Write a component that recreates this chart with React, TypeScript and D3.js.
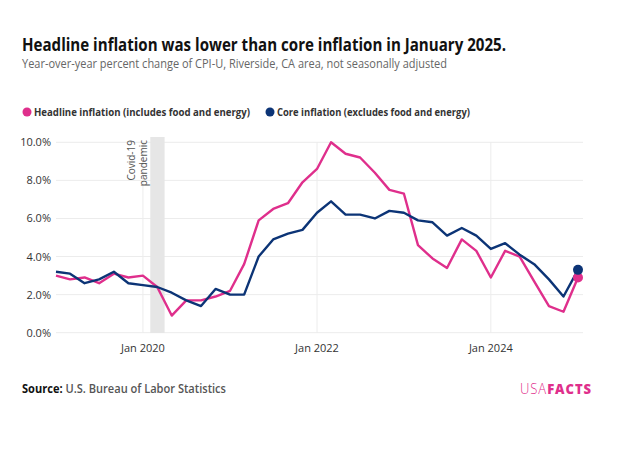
import React from "react";
import * as d3 from "d3";

const startYear = 2019;
const headline = [3.0, 2.8, 2.9, 2.6, 3.1, 2.9, 3.0, 2.4, 0.9, 1.7, 1.7, 1.9, 2.2, 3.6, 5.9, 6.5, 6.8, 7.9, 8.6, 10.0, 9.4, 9.2, 8.4, 7.5, 7.3, 4.6, 3.9, 3.4, 4.9, 4.3, 2.9, 4.3, 4.0, 2.7, 1.4, 1.1, 2.9];
const core = [3.2, 3.1, 2.6, 2.8, 3.2, 2.6, 2.5, 2.4, 2.1, 1.7, 1.4, 2.3, 2.0, 2.0, 4.0, 4.9, 5.2, 5.4, 6.3, 6.9, 6.2, 6.2, 6.0, 6.4, 6.3, 5.9, 5.8, 5.1, 5.5, 5.1, 4.4, 4.7, 4.1, 3.6, 2.8, 1.9, 3.3];
const yTicks = [0, 2, 4, 6, 8, 10];
const xTickYears = [2020, 2022, 2024];

const PINK = "#df2f8c";
const NAVY = "#0c3476";
const FONT = "'Open Sans', 'Noto Sans', sans-serif";

export default function App() {
  const W = 640, H = 455;
  const dates = headline.map((_, i) => new Date(startYear, i * 2, 1));
  const x = d3.scaleTime().domain([new Date(2019, 0, 1), new Date(2025, 0, 1)]).range([56, 578]);
  const y = d3.scaleLinear().domain([0, 10]).range([332.7, 142.3]);
  const line = d3.line<number>().x((_, i) => x(dates[i])).y((d) => y(d));
  const gridRight = 583;
  const covidX0 = x(new Date(2020, 1, 1));
  const covidX1 = x(new Date(2020, 3, 1));
  const last = headline.length - 1;

  return (
    <svg width={W} height={H} style={{ display: "block", position: "absolute", left: 0, top: 0 }} fontFamily={FONT}>
      <rect width={W} height={H} fill="#fff" />
      <text x={22} y={51} fontSize={17.2} fontWeight={700} fill="#111" textLength={484} lengthAdjust="spacingAndGlyphs">
        Headline inflation was lower than core inflation in January 2025.
      </text>
      <text x={22} y={68} fontSize={12.5} fill="#666" textLength={425} lengthAdjust="spacingAndGlyphs">
        Year-over-year percent change of CPI-U, Riverside, CA area, not seasonally adjusted
      </text>

      {/* legend */}
      <circle cx={27} cy={112} r={4.5} fill={PINK} />
      <text x={34} y={116} fontSize={10.5} fontWeight={700} fill="#333" textLength={216} lengthAdjust="spacingAndGlyphs">
        Headline inflation (includes food and energy)
      </text>
      <circle cx={270} cy={112} r={4.5} fill={NAVY} />
      <text x={277} y={116} fontSize={10.5} fontWeight={700} fill="#333" textLength={193} lengthAdjust="spacingAndGlyphs">
        Core inflation (excludes food and energy)
      </text>

      {/* grid */}
      {yTicks.map((t) => (
        <g key={t}>
          <line x1={56} x2={gridRight} y1={y(t)} y2={y(t)} stroke="#ececec" strokeWidth={1} />
          <text x={51} y={y(t) + 4} fontSize={11} fill="#333" textAnchor="end">
            {t.toFixed(1)}%
          </text>
        </g>
      ))}
      {xTickYears.map((yr) => (
        <g key={yr}>
          <line x1={x(new Date(yr, 0, 1))} x2={x(new Date(yr, 0, 1))} y1={142} y2={333} stroke="#ececec" strokeWidth={1} />
          <text x={x(new Date(yr, 0, 1))} y={352} fontSize={11} fill="#333" textAnchor="middle">
            Jan {yr}
          </text>
        </g>
      ))}

      {/* covid band */}
      <rect x={covidX0} y={137} width={covidX1 - covidX0} height={196} fill="#e6e6e6" />
      <text transform={`translate(${135},${140}) rotate(-90)`} fontSize={10} fill="#555" textAnchor="end">
        Covid-19
      </text>
      <text transform={`translate(${146.5},${140}) rotate(-90)`} fontSize={10} fill="#555" textAnchor="end">
        pandemic
      </text>

      {/* lines */}
      <path d={line(headline) || ""} fill="none" stroke={PINK} strokeWidth={2.4} strokeLinejoin="round" />
      <path d={line(core) || ""} fill="none" stroke={NAVY} strokeWidth={2.4} strokeLinejoin="round" />
      <circle cx={x(dates[last])} cy={y(headline[last])} r={5} fill={PINK} />
      <circle cx={x(dates[last])} cy={y(core[last])} r={5} fill={NAVY} />

      {/* footer */}
      <text x={22} y={393} fontSize={12} fontWeight={600} fill="#555" textLength={204} lengthAdjust="spacingAndGlyphs">
        <tspan fontWeight={700} fill="#111">Source:</tspan> U.S. Bureau of Labor Statistics
      </text>
      <text x={520} y={394} fontSize={14} fill={PINK} textLength={72} lengthAdjust="spacingAndGlyphs" letterSpacing={1}>
        <tspan fontWeight={300}>USA</tspan><tspan fontWeight={800}>FACTS</tspan>
      </text>
    </svg>
  );
}
